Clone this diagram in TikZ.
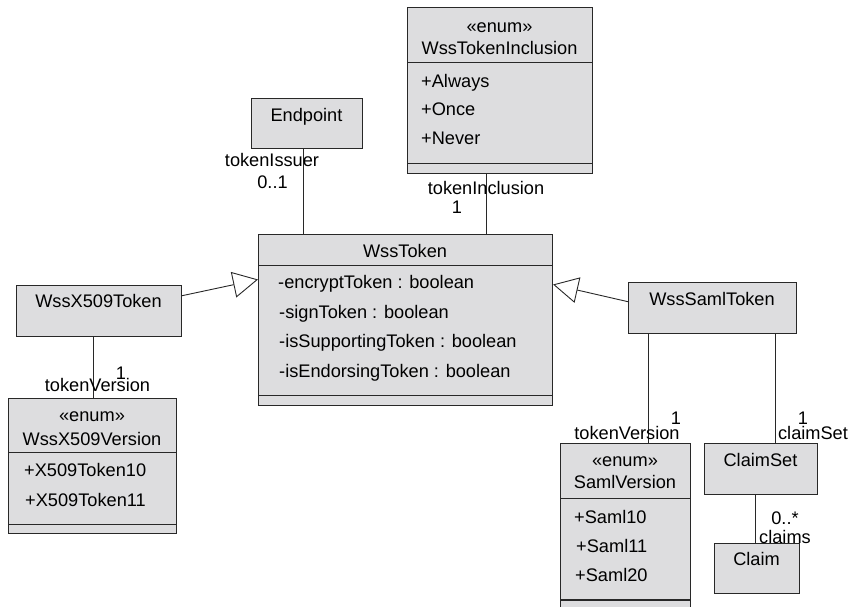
\documentclass[tikz,border=0pt]{standalone}
\usepackage{fontspec}
\setmainfont{Liberation Sans}
\usetikzlibrary{arrows.meta}
\definecolor{boxfill}{RGB}{221,221,223}
\definecolor{edge}{RGB}{40,40,40}
\tikzset{
  umlbox/.style={draw=edge, fill=boxfill, line width=1.1pt, inner sep=0pt, anchor=north west},
  txt/.style={inner sep=0pt, text height=13pt, text depth=0pt, font=\fontsize{18.2}{22}\selectfont, text=black},
  attr/.style={txt, anchor=west},
  sep/.style={draw=edge, line width=1.1pt},
  assoc/.style={draw=edge, line width=0.9pt},
  inherit/.style={draw=edge, line width=0.9pt, -{Triangle[open, length=25pt, width=26pt]}},
}
\begin{document}
\begin{tikzpicture}[x=1pt, y=-1pt]
\useasboundingbox (0,0) rectangle (851,607);
\begin{scope}
\clip (0,0) rectangle (851,607);

% ---- class boxes ----
\node[umlbox, minimum width=111pt, minimum height=50pt] (ep) at (251,98) {};
\node[txt] (epT) at (306.5,115) {Endpoint};

\node[umlbox, minimum width=185pt, minimum height=166pt] (inc) at (407,7) {};
\draw[sep] (407,62.3) -- (592,62.3);
\draw[sep] (407,163.3) -- (592,163.3);
\node[txt] (incS) at (499.5,26) {«enum»};
\node[txt] (incT) at (499.5,48) {WssTokenInclusion};
\node[attr] (incA) at (421,81) {+Always};
\node[attr] (incB) at (421,109) {+Once};
\node[attr] (incC) at (421,138) {+Never};

\node[umlbox, minimum width=294pt, minimum height=171pt] (tok) at (258,234) {};
\draw[sep] (258,265.7) -- (552,265.7);
\draw[sep] (258,395.7) -- (552,395.7);
\node[txt] (tokT) at (405,250.5) {WssToken};
\node[attr] (tokA) at (278,282) {-encryptToken : boolean};
\node[attr] (tokB) at (279,312) {-signToken : boolean};
\node[attr] (tokC) at (279,341) {-isSupportingToken : boolean};
\node[attr] (tokD) at (279,370.5) {-isEndorsingToken : boolean};

\node[umlbox, minimum width=165pt, minimum height=51pt] (x509) at (16,285) {};
\node[txt] (x509T) at (98.5,300.5) {WssX509Token};

\node[umlbox, minimum width=168pt, minimum height=135pt] (x509v) at (8,398) {};
\draw[sep] (8,452.7) -- (176,452.7);
\draw[sep] (8,524.3) -- (176,524.3);
\node[txt] (x509vS) at (92,415) {«enum»};
\node[txt] (x509vT) at (92,438.5) {WssX509Version};
\node[attr] (x509vA) at (24,470) {+X509Token10};
\node[attr] (x509vB) at (25,500) {+X509Token11};

\node[umlbox, minimum width=168pt, minimum height=51pt] (saml) at (628,282) {};
\node[txt] (samlT) at (712,298.5) {WssSamlToken};

\node[umlbox, minimum width=130pt, minimum height=180pt] (samlv) at (560,443) {};
\draw[sep] (560,498.7) -- (690,498.7);
\draw[sep] (560,600) -- (690,600);
\node[txt] (samlvS) at (625,459.5) {«enum»};
\node[txt] (samlvT) at (625,481.5) {SamlVersion};
\node[attr] (samlvA) at (574,516.5) {+Saml10};
\node[attr] (samlvB) at (576,545.5) {+Saml11};
\node[attr] (samlvC) at (575,575) {+Saml20};

\node[umlbox, minimum width=113pt, minimum height=51pt] (cs) at (704,443) {};
\node[txt] (csT) at (760.5,459.5) {ClaimSet};

\node[umlbox, minimum width=85pt, minimum height=50pt] (cl) at (714,543) {};
\node[txt] (clT) at (756.5,558.5) {Claim};

% ---- associations ----
\draw[assoc] (ep.south -| 303,0) -- (tok.north -| 303,0);
\draw[assoc] (inc.south -| 486,0) -- (tok.north -| 486,0);
\draw[assoc] (x509.south -| 93,0) -- (x509v.north -| 93,0);
\draw[assoc] (saml.south -| 648,0) -- (samlv.north -| 648,0);
\draw[assoc] (saml.south -| 775,0) -- (cs.north -| 775,0);
\draw[assoc] (cs.south -| 755,0) -- (cl.north -| 755,0);

% ---- generalizations ----
\draw[inherit] (x509.east |- 0,295.7) -- (tok.west |- 0,279.5);
\draw[inherit] (saml.west |- 0,301.7) -- (tok.east |- 0,284.5);

% ---- role names and multiplicities ----
\node[txt] (l1) at (272,160) {tokenIssuer};
\node[txt] (l2) at (272.5,181.5) {0..1};
\node[txt] (l3) at (486,187.5) {tokenInclusion};
\node[txt] (l4) at (457,206.5) {1};
\node[txt] (l5) at (121,372.5) {1};
\node[txt] (l6) at (97.5,385) {tokenVersion};
\node[txt] (l7) at (676,417.5) {1};
\node[txt] (l8) at (627,433) {tokenVersion};
\node[txt] (l9) at (803,417.5) {1};
\node[txt] (l10) at (813,433) {claimSet};
\node[txt] (l11) at (785,518) {0..*};
\node[txt] (l12) at (785,536.5) {claims};
\end{scope}
\end{tikzpicture}
\end{document}
